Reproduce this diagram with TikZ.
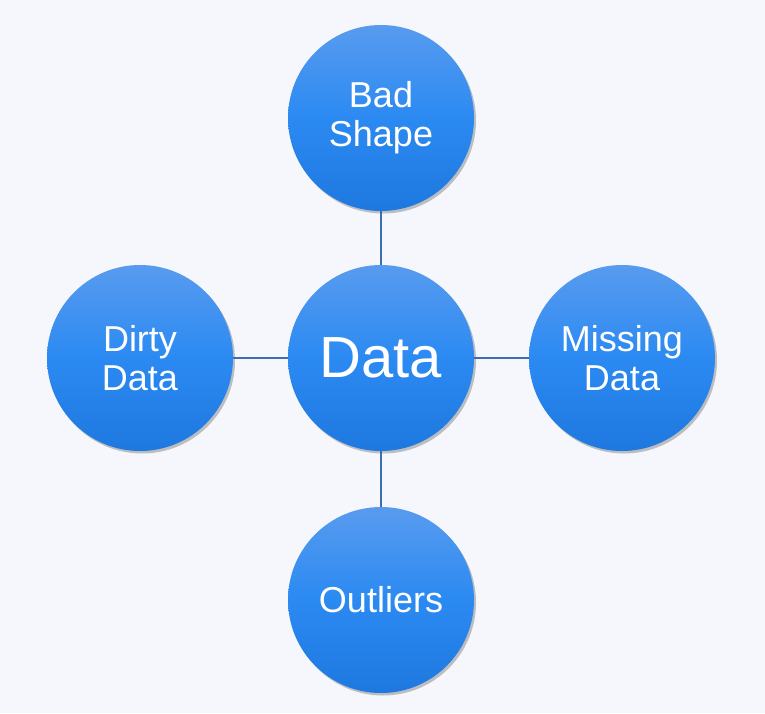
\documentclass[tikz,border=0pt]{standalone}
\usepackage{fontspec}
\setmainfont{Liberation Sans}
\usetikzlibrary{shadows}
\definecolor{bgc}{HTML}{F5F7FC}
\definecolor{topc}{HTML}{589BEF}
\definecolor{midc}{HTML}{2B8AF2}
\definecolor{botc}{HTML}{1E78DF}
\definecolor{linec}{HTML}{3A6FB0}
\tikzset{
  bubble/.style={circle, minimum size=186pt, inner sep=0pt, text=white,
    top color=topc, bottom color=botc, middle color=midc, draw=none,
    align=center, font=\fontsize{36}{39}\selectfont,
    drop shadow={shadow xshift=2pt, shadow yshift=-2.5pt, opacity=0.4, fill=black!60}},
  link/.style={draw=linec, line width=1.3pt}
}
\begin{document}
\begin{tikzpicture}[x=1pt,y=1pt]
\fill[bgc] (0,0) rectangle (765,-713);
\useasboundingbox (0,0) rectangle (765,-713);
\node[bubble, font=\fontsize{58}{62}\selectfont] (data) at (381,-358) {Data};
\node[bubble] (bad) at (381,-118) {Bad\\Shape};
\node[bubble] (dirty) at (140,-358) {Dirty\\Data};
\node[bubble] (miss) at (622,-358) {Missing\\Data};
\node[bubble] (out) at (381,-600) {Outliers};
\draw[link] (data) -- (bad);
\draw[link] (data) -- (dirty);
\draw[link] (data) -- (miss);
\draw[link] (data) -- (out);
\end{tikzpicture}
\end{document}
